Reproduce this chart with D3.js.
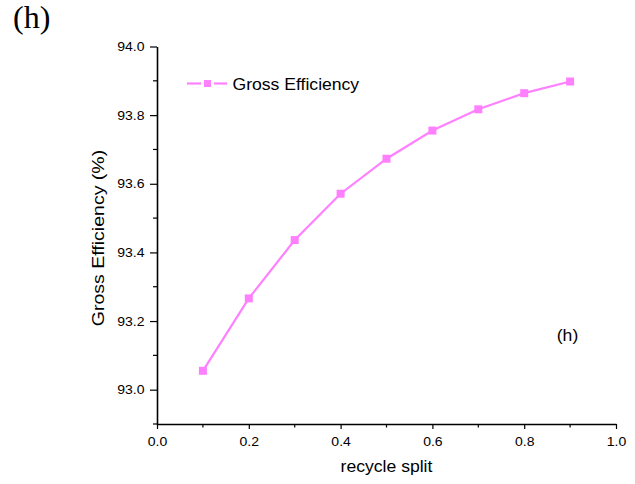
<!DOCTYPE html>
<html>
<head>
<meta charset="utf-8">
<script src="https://cdn.jsdelivr.net/npm/d3@7"></script>
<style>
  html, body { margin: 0; padding: 0; background: #fff; }
  svg { display: block; }
  text { font-family: "Liberation Sans", Arial, sans-serif; fill: #000; }
</style>
</head>
<body>
<svg id="chart" width="635" height="484"></svg>
<script>
// Gross efficiency versus recycle split
const recycleSplit = [0.1, 0.2, 0.3, 0.4, 0.5, 0.6, 0.7, 0.8, 0.9];
const grossEfficiency = [93.055, 93.266, 93.436, 93.571, 93.673, 93.755, 93.817, 93.864, 93.898];
const xTickValues = [0.0, 0.2, 0.4, 0.6, 0.8, 1.0];
const yTickValues = [93.0, 93.2, 93.4, 93.6, 93.8, 94.0];
const seriesName = "Gross Efficiency";
const panelLabel = "(h)";

const svg = d3.select("#chart");
const color = "#ff80ff";

const x = d3.scaleLinear().domain([0, 1.0]).range([157, 616]);
const y = d3.scaleLinear().domain([92.9, 94.0]).range([424, 46.5]);

// Text in this figure is slightly wide; stretch along the baseline
function stretchedText(parent, px, py, sx, size, anchor, rotate) {
  const rot = rotate ? ` rotate(${rotate})` : "";
  return parent.append("text")
    .attr("transform", `translate(${px},${py})${rot} scale(${sx},1)`)
    .attr("text-anchor", anchor)
    .style("font-size", size + "px");
}

// Panel letter at the top left
svg.append("text")
  .attr("x", 13).attr("y", 28)
  .style("font-family", "'Liberation Serif', 'Times New Roman', serif")
  .style("font-size", "32px")
  .text(panelLabel);

// Minor ticks
const xMinor = d3.range(0.1, 1.0, 0.2);
const yMinor = d3.range(92.9, 94.0, 0.2).map(v => +v.toFixed(1));

svg.append("g").selectAll("line").data(xMinor).join("line")
  .attr("x1", d => x(d)).attr("x2", d => x(d))
  .attr("y1", 424).attr("y2", 427.5)
  .attr("stroke", "#000").attr("stroke-width", 1.2);

svg.append("g").selectAll("line").data(yMinor).join("line")
  .attr("x1", 157).attr("x2", 153)
  .attr("y1", d => y(d)).attr("y2", d => y(d))
  .attr("stroke", "#000").attr("stroke-width", 1.2);

// Axes
const tickStretch = 1.08;
const xAxis = d3.axisBottom(x).tickValues(xTickValues).tickFormat(d3.format(".1f"))
  .tickSizeInner(5).tickSizeOuter(0).tickPadding(8);
const yAxis = d3.axisLeft(y).tickValues(yTickValues).tickFormat(d3.format(".1f"))
  .tickSizeInner(7).tickSizeOuter(0).tickPadding(5);

const gx = svg.append("g").attr("transform", "translate(0,424)").call(xAxis);
const gy = svg.append("g").attr("transform", "translate(157,0)").call(yAxis);

[gx, gy].forEach(g => {
  g.select(".domain").attr("stroke", "#000").attr("stroke-width", 1.6);
  g.selectAll(".tick line").attr("stroke", "#000").attr("stroke-width", 1.2);
  g.selectAll(".tick text")
    .style("font-family", "'Liberation Sans', Arial, sans-serif")
    .style("font-size", "13px").attr("fill", "#000")
    .attr("transform", `scale(${tickStretch},1)`);
});
// keep y tick labels' right edge at the same gap from the ticks
gy.selectAll(".tick text").attr("x", -12 / tickStretch - 0.5);

// Axis titles
stretchedText(svg, 386.5, 472, 1.1, 16, "middle").text("recycle split");
stretchedText(svg, 104, 238, 1.22, 16, "middle", -90).text("Gross Efficiency (%)");

// Series line and markers
const line = d3.line().x((d, i) => x(recycleSplit[i])).y(d => y(d));
svg.append("path")
  .datum(grossEfficiency)
  .attr("d", line)
  .attr("fill", "none")
  .attr("stroke", color)
  .attr("stroke-width", 2.2);

const ms = 8;
svg.append("g").selectAll("rect").data(grossEfficiency).join("rect")
  .attr("x", (d, i) => x(recycleSplit[i]) - ms / 2)
  .attr("y", d => y(d) - ms / 2)
  .attr("width", ms).attr("height", ms)
  .attr("fill", color);

// Legend
const legend = svg.append("g");
legend.append("line").attr("x1", 187).attr("x2", 201).attr("y1", 83.5).attr("y2", 83.5)
  .attr("stroke", color).attr("stroke-width", 2.2);
legend.append("line").attr("x1", 214).attr("x2", 227).attr("y1", 83.5).attr("y2", 83.5)
  .attr("stroke", color).attr("stroke-width", 2.2);
legend.append("rect").attr("x", 204).attr("y", 80).attr("width", 7).attr("height", 7)
  .attr("fill", color);
stretchedText(legend, 232.5, 89.5, 1.1, 16, "start").text(seriesName);

// Panel letter inside the plot
stretchedText(svg, 567.5, 341, 1.1, 16, "middle").text(panelLabel);
</script>
</body>
</html>
